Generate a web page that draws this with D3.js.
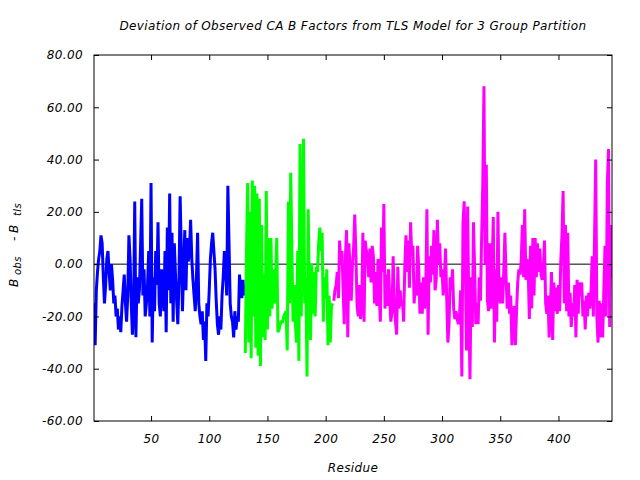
<!DOCTYPE html>
<html>
<head>
<meta charset="utf-8">
<script src="https://cdn.jsdelivr.net/npm/d3@7"></script>
<style>
  body { margin: 0; background: #fff; }
  text { font-family: "DejaVu Sans", sans-serif; font-style: italic; font-size: 12px; fill: #000; letter-spacing: 0.4px; }
</style>
</head>
<body>
<div id="chart"></div>
<script>
// residue at which each TLS group starts
const groupStarts = [1, 131, 207];
const groupColors = ["#0000ff", "#00ff00", "#ff00ff"];

// B_obs - B_tls, one value per residue
const blueValues = [
  -15, -31, -10, -3, 2, 5, 11, 8, -5, -15,
  -8, 2, 5, -3, -10, 0, -6, -15, -12, -20,
  -17, -25, -20, -26, -16, -10, -4, -15, -22, -12,
  11, 2, -15, -27, -18, 24, -28, -5, -15, -10,
  7, 25, -12, -2, -20, -15, -8, 5, -20, 31,
  -30, -5, -18, 5, -8, 16, -15, -20, -2, -10,
  -18, 5, -26, 14, -10, 27, -15, 12, -22, 8,
  -4, -14, -23, -6, 26, 5, -18, -2, 13, -10,
  10, 1, 5, 17, 2, -6, -12, -18, -5, 12,
  -15, -20, -23, -18, -29, -22, -37, -15, -20, -10,
  2, 8, 12, 5, -2, -14, -23, -27, -20, -25,
  -12, -5, 5, 0, -12, 30, 8, -15, -20, -22,
  -28, -18, -25, -20, -22, -4, -10, -13, -6, -12
];

const greenValues = [
  -34, 5, 31, -30, 20, -36, 32, -20, 30, -32,
  27, -35, 25, -39, 15, -28, -4, -29, 28, -25,
  10, -20, 10, -17, -2, -15, -5, 10, -26, -25,
  -23, -22, -22, -20, -19, -18, -33, 24, -15, 35,
  5, -22, -8, -23, -30, 5, -37, 46, -20, 10,
  48, -15, -5, -43, 21, -10, -29, 0, -19, -3,
  -20, -1, -3, 8, 14, 5, 12, -22, -5, -13,
  -2, -31, -12, -30, -16, -15
];

const magentaValues = [
  -14, -10, -8, -3, -13, 9, 0, 5, -10, -23,
  3, 13, -28, 8, -3, -14, 0, 6, 19, 4,
  -16, -20, -8, -21, -15, 12, -22, 9, 5, 2,
  -5, 6, -7, 7, 3, -15, -3, -16, 2, -11,
  -22, 14, -3, 23, -17, -4, -16, -2, -13, -22,
  -18, 3, -15, -22, -27, -1, -17, -10, -16, -14,
  -22, -1, 11, -3, 9, -9, 16, 3, 7, -15,
  -8, -12, 7, -2, -19, -7, -19, -5, -17, -10,
  21, -27, 3, -7, 7, -4, 13, -10, -6, 17,
  0, 8, -5, -2, -12, -5, 6, -13, -30, -23,
  -5, -10, -2, -17, -21, -18, -21, -23, -20, -10,
  -43, 16, 24, 0, -33, 22, -17, -44, -5, -24,
  16, -2, -23, -15, -23, -5, -14, 10, 31, 68,
  0, 38, -14, -18, 8, -17, -3, 18, -30, -2,
  -22, 20, -10, -15, -5, -15, -3, 12, -5, -17,
  -7, -19, -12, -31, -22, -16, -31, -18, -7, -2,
  -4, 1, 15, -5, 21, -6, 2, -2, -21, 7,
  -17, 10, -12, 10, -5, 8, -3, 6, -4, -6,
  -2, 9, -15, -19, -12, -28, -18, -3, -29, -7,
  -18, -9, -19, -8, -18, 1, 11, 28, -15, 15,
  -18, 12, -20, -11, -24, -15, -20, -8, -28, -6,
  -19, -7, -12, -7, -20, -14, -25, -12, -20, -11,
  -17, -10, 3, -20, 10, 40, -20, -30, -14, -28,
  -15, -28, -10, 7, -20, 31, 44, -24, 15, -5
];

const xTicks = [50, 100, 150, 200, 250, 300, 350, 400];
const yTicks = [-60, -40, -20, 0, 20, 40, 60, 80];

const title = "Deviation of Observed CA B Factors from TLS Model for 3 Group Partition";

const margin = { top: 55, right: 28, bottom: 59, left: 94 };
const width = 640 - margin.left - margin.right;
const height = 480 - margin.top - margin.bottom;

const svg = d3.select("#chart").append("svg")
  .attr("width", 640)
  .attr("height", 480)
  .append("g")
  .attr("transform", `translate(${margin.left}, ${margin.top})`);

const xScale = d3.scaleLinear()
  .domain([1, 446])
  .range([0, width]);

const yScale = d3.scaleLinear()
  .domain([-60, 80])
  .range([height, 0]);

// zero line sits behind the data
svg.append("line")
  .attr("x1", 0)
  .attr("x2", width)
  .attr("y1", yScale(0))
  .attr("y2", yScale(0))
  .attr("stroke", "#000")
  .attr("stroke-width", 1);

svg.append("defs").append("clipPath")
  .attr("id", "plot-clip")
  .append("rect")
  .attr("width", width)
  .attr("height", height);

const line = d3.line()
  .x(d => xScale(d.residue))
  .y(d => yScale(d.value));

[blueValues, greenValues, magentaValues].forEach((values, i) => {
  const points = values.map((v, j) => ({ residue: groupStarts[i] + j, value: v }));
  svg.append("path")
    .datum(points)
    .attr("clip-path", "url(#plot-clip)")
    .attr("fill", "none")
    .attr("stroke", groupColors[i])
    .attr("stroke-width", 3)
    .attr("d", line);
});

function styleAxis(g) {
  g.attr("font-family", null).attr("font-size", null);
  g.selectAll(".domain").remove();
  g.selectAll(".tick line").attr("stroke", "#000");
}

svg.append("g")
  .attr("transform", `translate(0, ${height})`)
  .call(d3.axisBottom(xScale).tickValues(xTicks).tickSizeInner(-5).tickSizeOuter(0).tickPadding(13))
  .call(styleAxis);

svg.append("g")
  .call(d3.axisTop(xScale).tickValues(xTicks).tickSizeInner(-5).tickSizeOuter(0).tickFormat(""))
  .call(styleAxis);

svg.append("g")
  .call(d3.axisLeft(yScale).tickValues(yTicks).tickSizeInner(-5).tickSizeOuter(0).tickPadding(11)
    .tickFormat(d => d.toFixed(2)))
  .call(styleAxis);

svg.append("g")
  .attr("transform", `translate(${width}, 0)`)
  .call(d3.axisRight(yScale).tickValues(yTicks).tickSizeInner(-5).tickSizeOuter(0).tickFormat(""))
  .call(styleAxis);

svg.append("rect")
  .attr("width", width)
  .attr("height", height)
  .attr("fill", "none")
  .attr("stroke", "#000")
  .attr("stroke-width", 1);

svg.append("text")
  .attr("x", width / 2)
  .attr("y", -25)
  .attr("text-anchor", "middle")
  .text(title);

svg.append("text")
  .attr("x", width / 2)
  .attr("y", height + 51)
  .attr("text-anchor", "middle")
  .text("Residue");

// y label: B_obs - B_tls, rotated, reading bottom to top
const yLabel = svg.append("text")
  .attr("transform", `translate(${18 - margin.left}, ${287 - margin.top}) rotate(-90)`)
  .attr("text-anchor", "start");
yLabel.append("tspan").attr("x", 0).attr("y", 0).text("B");
yLabel.append("tspan").attr("x", 12).attr("y", 3).attr("font-size", "10px").text("obs");
yLabel.append("tspan").attr("x", 46).attr("y", 0).text("-");
yLabel.append("tspan").attr("x", 54).attr("y", 0).text("B");
yLabel.append("tspan").attr("x", 71).attr("y", 3).attr("font-size", "10px").text("tls");
</script>
</body>
</html>
